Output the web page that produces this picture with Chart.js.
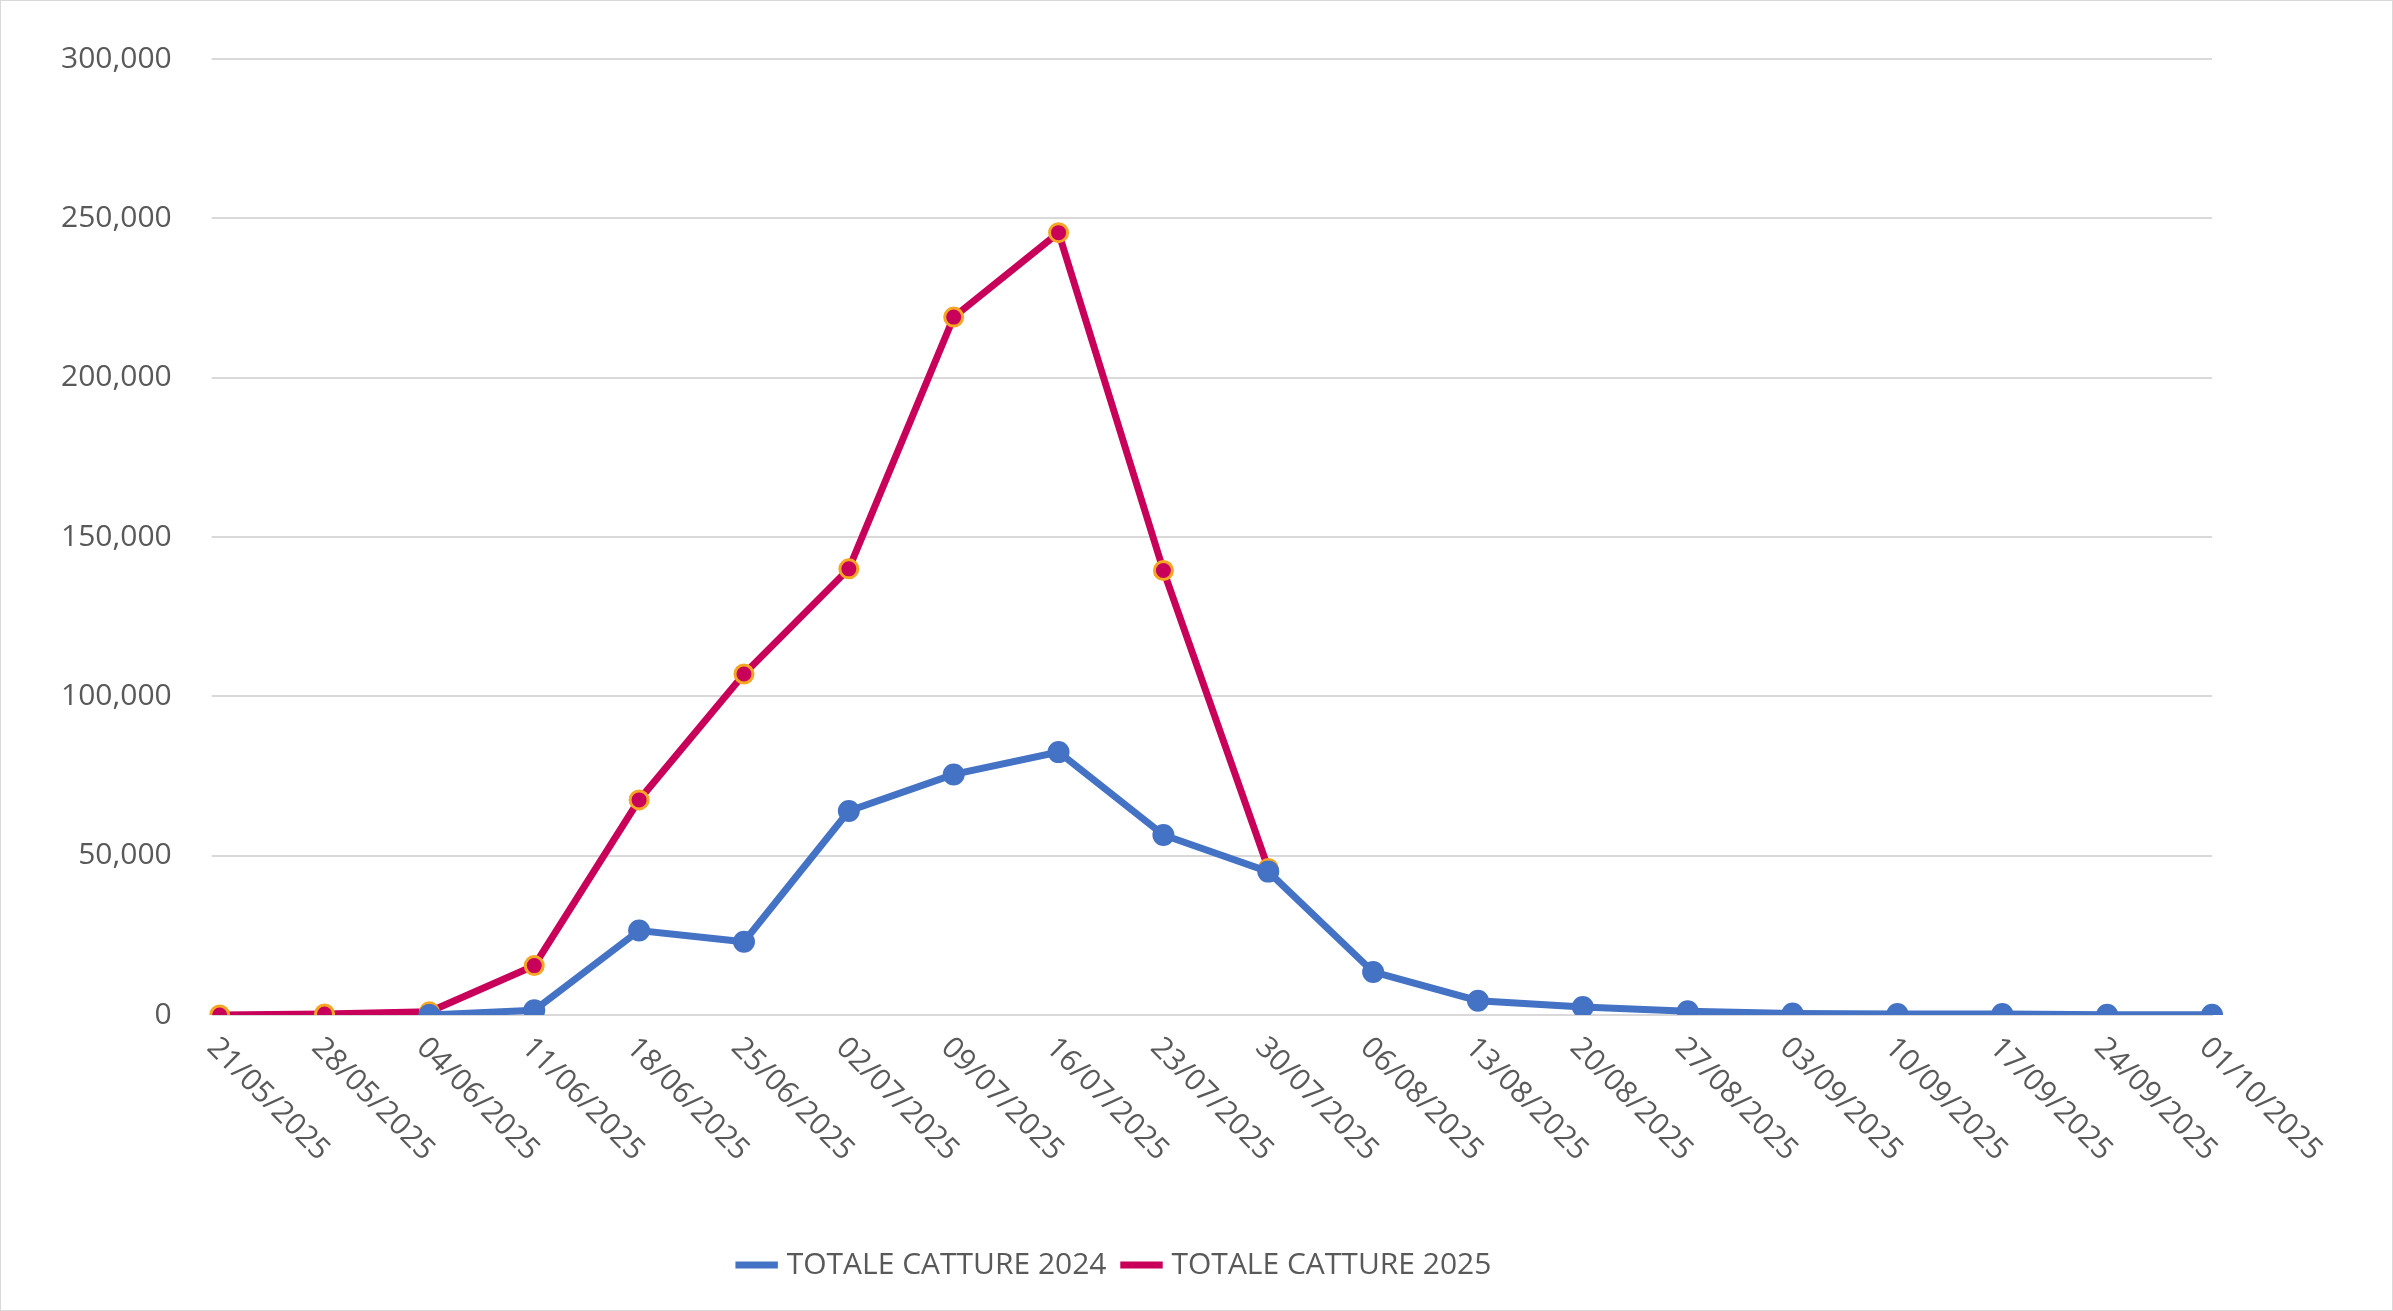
<!DOCTYPE html>
<html><head><meta charset="utf-8">
<script src="https://cdn.jsdelivr.net/npm/chart.js@4"></script>
<style>
html,body{margin:0;padding:0;background:#fff;}
#wrap{position:absolute;left:0;top:0;width:2391px;height:1309px;border:1px solid #d9d9d9;}
</style></head><body>
<div id="wrap"><canvas id="c" width="2391" height="1309"></canvas></div>
<script>
const categories=["21/05/2025","28/05/2025","04/06/2025","11/06/2025","18/06/2025","25/06/2025","02/07/2025","09/07/2025","16/07/2025","23/07/2025","30/07/2025","06/08/2025","13/08/2025","20/08/2025","27/08/2025","03/09/2025","10/09/2025","17/09/2025","24/09/2025","01/10/2025"];
const catture2024=[null,null,0,1500,26500,23000,64000,75500,82500,56500,45000,13500,4500,2500,1200,500,300,300,100,100];
const catture2025=[0,300,1000,15500,67500,107000,140000,219000,245500,139500,46000,null,null,null,null,null,null,null,null,null];
const yTicks=[0,50000,100000,150000,200000,250000,300000];
const FONT='"Open Sans", "Liberation Sans", sans-serif';
const rotLabels={id:'rotLabels',afterDraw(ch){
  const x=ch.scales.x,ctx=ch.ctx;ctx.save();
  ctx.font='30px '+FONT;ctx.fillStyle='#595959';ctx.textAlign='left';ctx.textBaseline='middle';
  categories.forEach((c,i)=>{const px=x.getPixelForValue(i);ctx.save();ctx.translate(px-8,x.top+28);ctx.rotate(Math.PI/4);ctx.fillText(c,0,0);ctx.restore();});
  ctx.restore();}};
new Chart(document.getElementById('c'),{type:'line',
 data:{labels:categories,datasets:[
  {label:'TOTALE CATTURE 2024',data:catture2024,borderColor:'#4472C4',backgroundColor:'#4472C4',borderWidth:7,pointRadius:10,pointBorderWidth:2,pointBorderColor:'#4472C4',pointBackgroundColor:'#4472C4'},
  {label:'TOTALE CATTURE 2025',data:catture2025,borderColor:'#C8005A',backgroundColor:'#C8005A',borderWidth:7,pointRadius:9,pointBorderWidth:3,pointBorderColor:'#F5A623',pointBackgroundColor:'#C8005A'}]},
 options:{responsive:false,animation:false,devicePixelRatio:1,
  layout:{padding:{left:20,right:180,top:35,bottom:20}},
  plugins:{legend:{position:'bottom',labels:{font:{size:30,family:FONT},color:'#595959',usePointStyle:true,pointStyle:'line',boxWidth:100,padding:20,
    generateLabels(ch){return ch.data.datasets.map((d,i)=>({text:d.label,fillStyle:d.borderColor,strokeStyle:d.borderColor,lineWidth:7,pointStyle:'line',datasetIndex:i,fontColor:'#595959'}));}}},tooltip:{enabled:false}},
  scales:{x:{offset:false,grid:{display:false},border:{color:'#d9d9d9',width:2},ticks:{color:'rgba(0,0,0,0)',font:{size:30,family:FONT},maxRotation:45,minRotation:45,padding:95},afterFit(s){s.height=215;}},
   y:{min:0,max:300000,afterBuildTicks(s){s.ticks=yTicks.map(v=>({value:v}));},grid:{color:'#d9d9d9',lineWidth:2},border:{display:false},ticks:{color:'#595959',font:{size:30,family:FONT},padding:40}}}},
 plugins:[rotLabels]});
</script></body></html>
